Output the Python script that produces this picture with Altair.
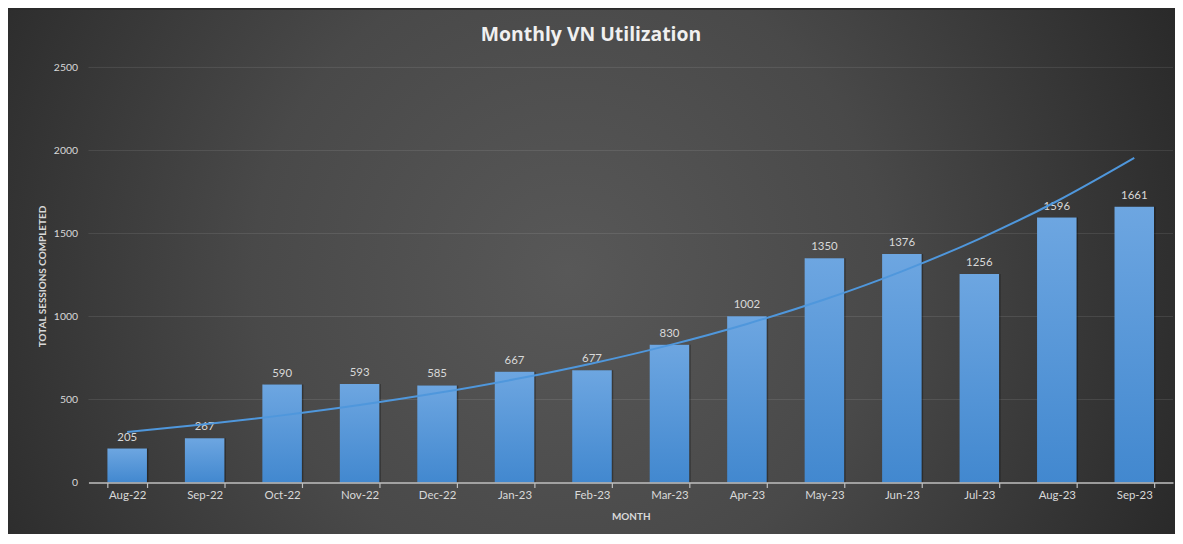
import altair as alt
import numpy as np
import pandas as pd

months = ["Aug-22", "Sep-22", "Oct-22", "Nov-22", "Dec-22", "Jan-23", "Feb-23",
          "Mar-23", "Apr-23", "May-23", "Jun-23", "Jul-23", "Aug-23", "Sep-23"]
sessions = [205, 267, 590, 593, 585, 667, 677, 830, 1002, 1350, 1376, 1256, 1596, 1661]
y_ticks = [0, 500, 1000, 1500, 2000, 2500]
title_text = "Monthly VN Utilization"

df = pd.DataFrame({"month": months, "sessions": sessions,
                   "idx": np.arange(1, len(months) + 1)})
grid_df = pd.DataFrame({"v": y_ticks[1:]})
bg_df = pd.DataFrame({"a": [0]})

FONT = "Lato"
TXT = "#d9d9d9"

x_enc = alt.X("month:N", sort=months,
              scale=alt.Scale(paddingInner=0.49, paddingOuter=0.245),
              axis=alt.Axis(title="MONTH", labelAngle=0, labelColor=TXT, labelFont=FONT,
                            labelFontSize=11.5, labelPadding=2, tickBand="extent",
                            tickColor="#bfbfbf", tickSize=5, tickWidth=1.2,
                            domainColor="#bfbfbf", domainWidth=1.5, grid=False,
                            titleColor=TXT, titleFont=FONT, titleFontSize=10,
                            titleFontWeight="bold", titleY=34, titleBaseline="middle",
                            zindex=1))
y_scale = alt.Scale(domain=[0, 2500], nice=False)

bg = alt.Chart(bg_df).mark_rect(
    fill=alt.RadialGradient(
        gradient="radial", x1=0.48, y1=0.5, r1=0, x2=0.48, y2=0.5, r2=0.6,
        stops=[alt.GradientStop(offset=0, color="#585858"),
               alt.GradientStop(offset=0.45, color="#494949"),
               alt.GradientStop(offset=1, color="#262626")])
).encode(x=alt.value(-81), x2=alt.value(1094), y=alt.value(-58), y2=alt.value(470))

title = alt.Chart(bg_df).mark_text(
    font="Open Sans", fontSize=19.5, fontWeight="bold", color="#f0f0f0",
    align="center", baseline="middle"
).encode(x=alt.value(506), y=alt.value(-33), text=alt.value(title_text))

grid = alt.Chart(grid_df).mark_rule(color="#ffffff", opacity=0.1, strokeWidth=1).encode(
    y=alt.Y("v:Q", scale=y_scale))

base = alt.Chart(df)

shadow = base.mark_bar(color="#000000", opacity=0.3, xOffset=1.5).encode(
    x=x_enc,
    y=alt.Y("sessions:Q", scale=y_scale,
            axis=alt.Axis(title="TOTAL SESSIONS COMPLETED", values=y_ticks, format="d",
                          ticks=False, domain=False, grid=False, labelColor=TXT,
                          labelFont=FONT, labelFontSize=10.5, labelPadding=11,
                          titleColor=TXT, titleFont=FONT, titleFontSize=10,
                          titleFontWeight="bold", titleAngle=-90, titleX=-46, titleY=210,
                          titleAlign="center", titleBaseline="middle", zindex=1)))

bars = base.mark_bar(
    fill=alt.LinearGradient(
        gradient="linear", x1=0, y1=0, x2=0, y2=1,
        stops=[alt.GradientStop(offset=0, color="#6da6e1"),
               alt.GradientStop(offset=1, color="#4288cf")])
).encode(x=x_enc, y=alt.Y("sessions:Q", scale=y_scale))

labels = base.mark_text(dy=-6, baseline="bottom", color=TXT, font=FONT, fontSize=11.5).encode(
    x=x_enc, y=alt.Y("sessions:Q", scale=y_scale), text="sessions:Q")

trend = base.transform_calculate(
    ly="log(datum.sessions)"
).transform_joinaggregate(
    mx="mean(idx)", my="mean(ly)"
).transform_calculate(
    sxy="(datum.idx - datum.mx) * (datum.ly - datum.my)",
    sxx="(datum.idx - datum.mx) * (datum.idx - datum.mx)"
).transform_joinaggregate(
    Sxy="sum(sxy)", Sxx="sum(sxx)"
).transform_calculate(
    trend="exp(datum.my + datum.Sxy / datum.Sxx * (datum.idx - datum.mx))"
).mark_line(color="#4f97dc", strokeWidth=2, interpolate="monotone").encode(
    x=x_enc, y=alt.Y("trend:Q", scale=y_scale))

chart = alt.layer(bg, grid, shadow, bars, labels, trend, title).properties(
    width=1092, height=418,
    autosize=alt.AutoSizeParams(type="none"),
    padding={"left": 81, "top": 58, "right": 2, "bottom": 50},
    background="#2a2a2a",
).configure_view(stroke=None)

chart.save("out.html", embed_options={"renderer": "svg", "actions": False})
